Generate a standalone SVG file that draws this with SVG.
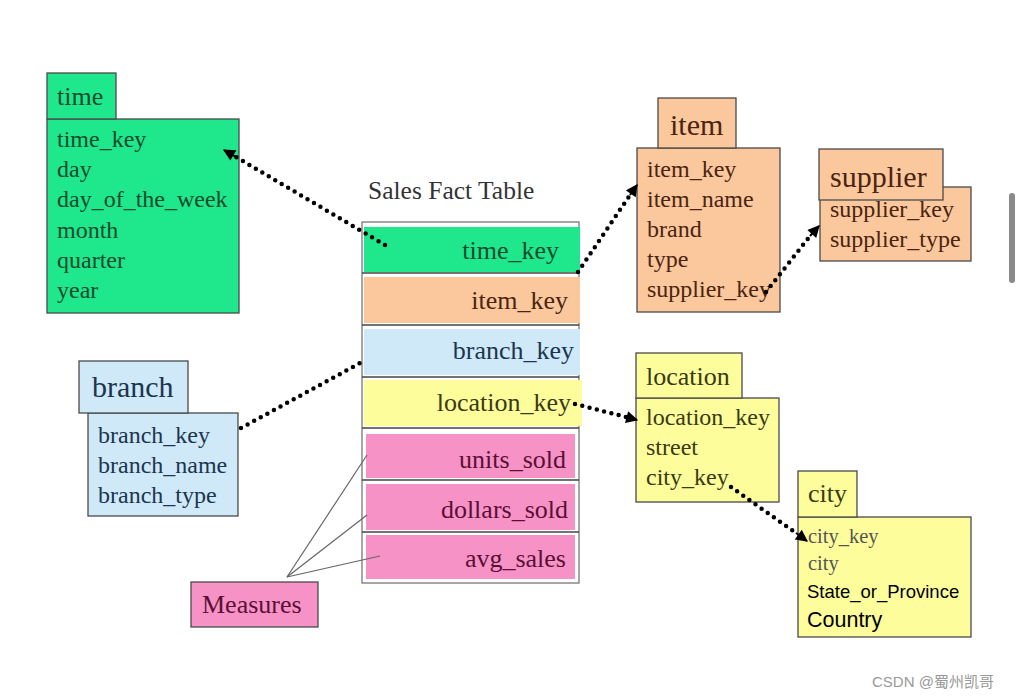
<svg xmlns="http://www.w3.org/2000/svg" width="1024" height="699" viewBox="0 0 1024 699">
<style>
.box{stroke:#4a4a4a;stroke-width:1.3}
.t{font-family:"Liberation Serif","Times New Roman",serif}
.f{font-family:"Liberation Serif","Times New Roman",serif;font-size:26px;text-anchor:end}
.s{font-family:"Liberation Sans",Arial,sans-serif;fill:#000}
.dot{fill:none;stroke:#000;stroke-width:4.5;stroke-linecap:round;stroke-dasharray:0 7.5}
.thin{fill:none;stroke:#666;stroke-width:1.2}
.g{fill:#1FE88C}.o{fill:#FAC89C}.b{fill:#CFE9F8}.y{fill:#FDFD9C}.p{fill:#F792C6}
</style>
<defs>
<marker id="arr" viewBox="0 0 10 10" refX="9" refY="5" markerWidth="14" markerHeight="12" markerUnits="userSpaceOnUse" orient="auto">
<path d="M0,0 L10,5 L0,10 z" fill="#000"/>
</marker>
</defs>
<rect width="1024" height="699" fill="#fff"/>

<g id="time">
<rect class="box g" x="47" y="119" width="192" height="194"/>
<rect class="box g" x="47" y="73" width="69" height="46"/>
<text class="t" x="57" y="105" fill="#0d4a2c" font-size="26">time</text>
<g class="t" fill="#0d4a2c" font-size="24">
<text x="57" y="147">time_key</text>
<text x="57" y="177">day</text>
<text x="57" y="207">day_of_the_week</text>
<text x="57" y="238">month</text>
<text x="57" y="268">quarter</text>
<text x="57" y="298">year</text>
</g>
</g>

<g id="fact">
<text x="368" y="199" font-family="Liberation Serif,serif" font-size="25.5" fill="#333">Sales Fact Table</text>
<rect x="362" y="222" width="217" height="361" fill="#fff" stroke="#777" stroke-width="1.3"/>
<rect class="g" x="364" y="227" width="216" height="45"/>
<rect class="o" x="364" y="277" width="216" height="46"/>
<rect class="b" x="364" y="329" width="216" height="46"/>
<rect class="y" x="364" y="380" width="218" height="46"/>
<rect class="p" x="366" y="434" width="209" height="44"/>
<rect class="p" x="366" y="484" width="209" height="46"/>
<rect class="p" x="366" y="535" width="209" height="44"/>
<g stroke="#444" stroke-width="1.6">
<line x1="362" y1="273" x2="579" y2="273"/>
<line x1="362" y1="325" x2="579" y2="325"/>
<line x1="362" y1="377" x2="579" y2="377"/>
<line x1="362" y1="428" x2="579" y2="428"/>
<line x1="362" y1="480" x2="579" y2="480"/>
<line x1="362" y1="532" x2="579" y2="532"/>
</g>
<text class="f" x="559" y="259" fill="#0d4a2c">time_key</text>
<text class="f" x="568" y="309" fill="#4a2410">item_key</text>
<text class="f" x="574" y="359" fill="#1b3550">branch_key</text>
<text class="f" x="571" y="411" fill="#3a3a12">location_key</text>
<text class="f" x="566" y="468" fill="#5a1035">units_sold</text>
<text class="f" x="568" y="518" fill="#5a1035">dollars_sold</text>
<text class="f" x="566" y="567" fill="#5a1035">avg_sales</text>
</g>

<g id="item">
<rect class="box o" x="637" y="148" width="143" height="164"/>
<rect class="box o" x="658" y="98" width="78" height="50"/>
<text class="t" x="670" y="135" fill="#4a2410" font-size="30">item</text>
<g class="t" fill="#4a2410" font-size="24">
<text x="647" y="177">item_key</text>
<text x="647" y="207">item_name</text>
<text x="647" y="237">brand</text>
<text x="647" y="267">type</text>
<text x="647" y="297">supplier_key</text>
</g>
</g>

<g id="supplier">
<rect class="box o" x="820" y="187" width="151" height="74"/>
<rect class="box o" x="819" y="149" width="124" height="51"/>
<text class="t" x="830" y="187" fill="#4a2410" font-size="30">supplier</text>
<g class="t" fill="#4a2410" font-size="24">
<text x="830" y="217">supplier_key</text>
<text x="830" y="247">supplier_type</text>
</g>
</g>

<g id="branch">
<rect class="box b" x="88" y="413" width="150" height="103"/>
<rect class="box b" x="79" y="361" width="109" height="52"/>
<text class="t" x="92" y="397" fill="#1b3550" font-size="30">branch</text>
<g class="t" fill="#1b3550" font-size="24">
<text x="98" y="443">branch_key</text>
<text x="98" y="473">branch_name</text>
<text x="98" y="503">branch_type</text>
</g>
</g>

<g id="location">
<rect class="box y" x="636" y="398" width="143" height="104"/>
<rect class="box y" x="636" y="353" width="106" height="45"/>
<text class="t" x="646" y="385" fill="#3a3a12" font-size="26">location</text>
<g class="t" fill="#3a3a12" font-size="24">
<text x="646" y="425">location_key</text>
<text x="646" y="455">street</text>
<text x="646" y="485">city_key</text>
</g>
</g>

<g id="city">
<rect class="box y" x="798" y="517" width="173" height="120"/>
<rect class="box y" x="798" y="471" width="59" height="46"/>
<text class="t" x="808" y="502" fill="#3a3a12" font-size="26">city</text>
<text class="t" x="808" y="543" fill="#555" font-size="20.5">city_key</text>
<text class="t" x="808" y="570" fill="#555" font-size="20.5">city</text>
<text class="s" x="807" y="598" font-size="18.5">State_or_Province</text>
<text class="s" x="807" y="627" font-size="21.5">Country</text>
</g>

<g id="measures">
<rect class="box p" x="191" y="582" width="127" height="45"/>
<text class="t" x="202" y="613" fill="#5a1035" font-size="26">Measures</text>
</g>

<g id="connectors">
<line class="dot" x1="385" y1="245" x2="236" y2="157"/>
<line x1="236" y1="157" x2="224" y2="150" stroke="#000" stroke-width="2" marker-end="url(#arr)"/>
<line class="dot" x1="578" y1="272" x2="630" y2="195"/>
<line x1="630" y1="195" x2="637" y2="185" stroke="#000" stroke-width="2" marker-end="url(#arr)"/>
<line class="dot" x1="766" y1="292" x2="810" y2="236"/>
<line x1="810" y1="236" x2="819" y2="226" stroke="#000" stroke-width="2" marker-end="url(#arr)"/>
<line class="dot" x1="575" y1="404" x2="626" y2="417"/>
<line x1="626" y1="417" x2="637" y2="420" stroke="#000" stroke-width="2" marker-end="url(#arr)"/>
<line class="dot" x1="731" y1="487" x2="796" y2="533"/>
<line x1="796" y1="533" x2="807" y2="541" stroke="#000" stroke-width="2" marker-end="url(#arr)"/>
<line class="dot" x1="241" y1="428" x2="362" y2="362"/>
<line class="thin" x1="287" y1="577" x2="367" y2="455"/>
<line class="thin" x1="287" y1="577" x2="367" y2="515"/>
<line class="thin" x1="287" y1="577" x2="380" y2="556"/>
</g>

<rect x="1009" y="193" width="6" height="90" rx="3" fill="#8a8a8a"/>
<text x="872" y="687" font-family="Liberation Sans,'Noto Sans CJK SC',sans-serif" font-size="15" fill="#999">CSDN @蜀州凯哥</text>
</svg>
